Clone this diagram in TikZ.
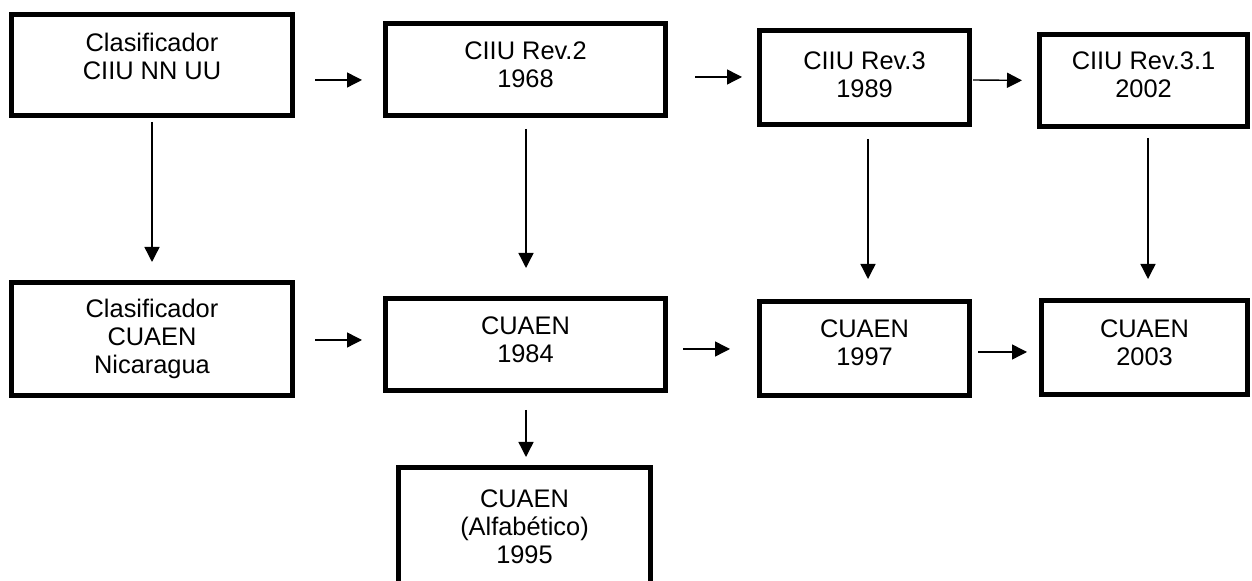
\documentclass[tikz,border=0pt]{standalone}
\usepackage{fontspec}
\setmainfont{Liberation Sans}
\usetikzlibrary{arrows.meta}

\tikzset{
	box/.style={draw, line width=2.5pt, inner sep=0pt, align=center, text depth=4.5pt,
		font=\fontsize{12.7pt}{14pt}\selectfont},
	arr/.style={line width=0.7pt, -{Triangle[length=7.5pt, width=7.5pt]}}
}

\begin{document}
\begin{tikzpicture}[x=0.5pt, y=-0.5pt]
	\useasboundingbox (0,0) rectangle (1252,581);
	\clip (0,0) rectangle (1252,581);

	\draw
		(152,65) node[box, minimum width=140.5pt, minimum height=50.5pt, text depth=9pt] (cls) {Clasificador\\CIIU NN UU}
		(525.5,69.5) node[box, minimum width=140pt, minimum height=46pt] (rev2) {CIIU Rev.2\\1968}
		(864.5,77.5) node[box, minimum width=105pt, minimum height=47pt, text depth=2.5pt] (rev3) {CIIU Rev.3\\1989}
		(1143.5,80.5) node[box, minimum width=104pt, minimum height=46pt, text depth=5.5pt] (rev31) {CIIU Rev.3.1\\2002}

		(152,339) node[box, minimum width=140.5pt, minimum height=56.5pt, text depth=] (nic) {Clasificador\\CUAEN\\Nicaragua}
		(525.5,344.5) node[box, minimum width=140pt, minimum height=46pt] (c1984) {CUAEN\\1984}
		(864.5,348.5) node[box, minimum width=105pt, minimum height=47pt, text depth=5.5pt] (c1997) {CUAEN\\1997}
		(1144.5,347.5) node[box, minimum width=103pt, minimum height=47pt] (c2003) {CUAEN\\2003}

		(524.5,527) node[box, minimum width=126pt, minimum height=59.5pt, text depth=] (c1995) {CUAEN\\(Alfabético)\\1995};

	\draw[arr, shorten <=10pt, shorten >=10.5pt] ([yshift=-7.5pt]cls.east) -- ([yshift=-5.25pt]rev2.west);
	\draw[arr, shorten <=13.5pt, shorten >=7.5pt] ([yshift=-3.75pt]rev2.east) -- ([yshift=0.25pt]rev3.west);
	\draw[arr, shorten <=0.5pt, shorten >=7.5pt] ([yshift=-1.25pt]rev3.east) -- (rev31.west);

	\draw[arr, shorten <=10pt, shorten >=10.5pt] ([yshift=-0.5pt]nic.east) -- ([yshift=2.25pt]c1984.west);
	\draw[arr, shorten <=7.5pt, shorten >=13.5pt] ([yshift=-2.25pt]c1984.east) -- ([yshift=-0.25pt]c1997.west);
	\draw[arr, shorten <=3pt, shorten >=6pt] ([yshift=-1.75pt]c1997.east) -- ([yshift=-2.25pt]c2003.west);

	\draw[arr, shorten <=2pt, shorten >=9pt] (cls.south) -- (nic.north);
	\draw[arr, shorten <=5.5pt, shorten >=14pt] ([xshift=0.25pt]rev2.south) -- ([xshift=0.25pt]c1984.north);
	\draw[arr, shorten <=6pt, shorten >=10pt] ([xshift=1.75pt]rev3.south) -- ([xshift=1.75pt]c1997.north);
	\draw[arr, shorten <=4.5pt, shorten >=9.5pt] ([xshift=2.25pt]rev31.south) -- ([xshift=1.75pt]c2003.north);
	\draw[arr, shorten <=8.5pt, shorten >=4pt] ([xshift=0.25pt]c1984.south) -- ([xshift=0.75pt]c1995.north);
\end{tikzpicture}
\end{document}
